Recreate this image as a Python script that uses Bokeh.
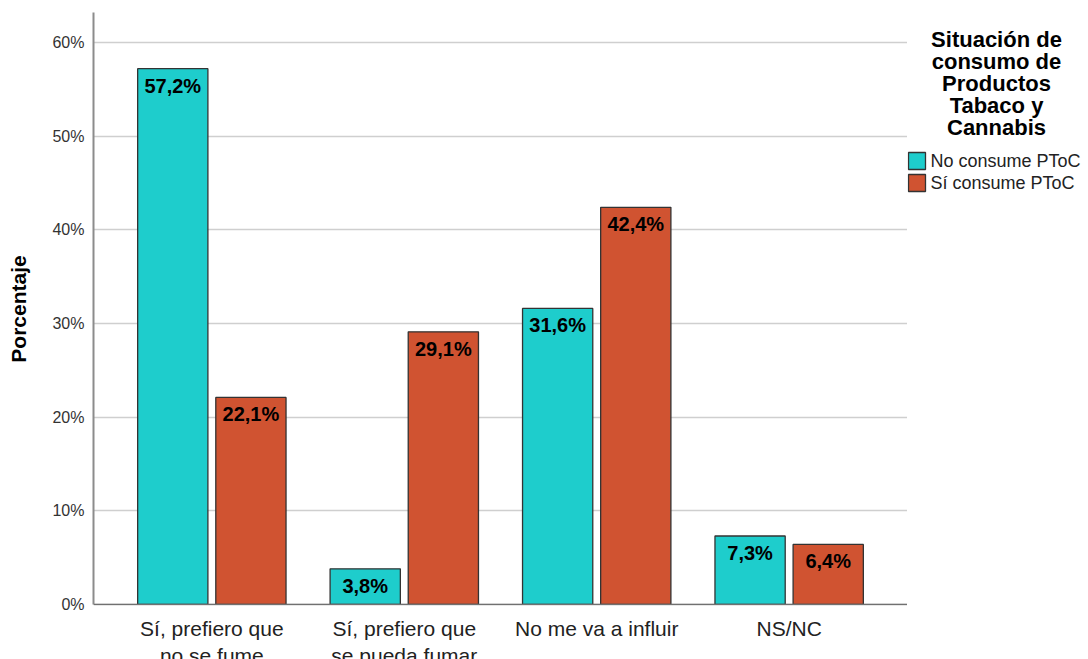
from bokeh.plotting import figure
from bokeh.layouts import row, column
from bokeh.models import (ColumnDataSource, FactorRange, Range1d, Span,
                          PrintfTickFormatter, FixedTicker)
from bokeh.transform import dodge
from bokeh.core.properties import value
from bokeh.embed import file_html
from bokeh.resources import INLINE

# ---- data ----
categories = ["Sí, prefiero que\nno se fume", "Sí, prefiero que\nse pueda fumar",
              "No me va a influir", "NS/NC"]
no_consume = [57.2, 3.8, 31.6, 7.3]
si_consume = [22.1, 29.1, 42.4, 6.4]
series_names = ["No consume PToC", "Sí consume PToC"]
legend_title_lines = ["Situación de", "consumo de", "Productos", "Tabaco y", "Cannabis"]
y_ticks = [0, 10, 20, 30, 40, 50, 60]

FONT = "Liberation Sans"
CYAN = "#1ECDCC"
RED = "#D05331"
EDGE = "#333333"


def fmt(v):
    return f"{v:.1f}".replace(".", ",") + "%"


src = ColumnDataSource(dict(
    cat=categories,
    no=no_consume,
    si=si_consume,
    no_txt=[fmt(v) for v in no_consume],
    si_txt=[fmt(v) for v in si_consume],
))

# ---------------- main chart ----------------
p = figure(width=907, height=615, output_backend="svg", toolbar_location=None, title=None,
           x_range=FactorRange(*categories, range_padding=0.115, range_padding_units="absolute"),
           y_range=Range1d(-0.12, 63.2),
           min_border_left=93, min_border_right=0, min_border_top=12, min_border_bottom=10)
p.outline_line_color = None
p.xgrid.grid_line_color = None
p.ygrid.grid_line_color = "#cfcfcf"
p.ygrid.grid_line_width = 1.5

off = 0.203
w = 0.365
p.vbar(x=dodge("cat", -off, range=p.x_range), top="no", width=w, source=src,
       fill_color=CYAN, line_color=EDGE, line_width=1.3)
p.vbar(x=dodge("cat", off, range=p.x_range), top="si", width=w, source=src,
       fill_color=RED, line_color=EDGE, line_width=1.3)

for col, d in (("no", -off), ("si", off)):
    p.text(x=dodge("cat", d, range=p.x_range), y=col, text=col + "_txt", source=src,
           text_align="center", text_baseline="top", y_offset=6,
           text_font=value(FONT), text_font_style="bold", text_font_size="20px",
           text_color="black")

# baseline (category axis line)
p.add_layout(Span(location=0, dimension="width", line_color="#707070", line_width=1.5))
p.xaxis.visible = False

# y axis
p.yaxis.ticker = FixedTicker(ticks=y_ticks)
p.yaxis.formatter = PrintfTickFormatter(format="%d%%")
p.yaxis.bounds = (0, 63.2)
p.yaxis.major_tick_line_color = None
p.yaxis.major_tick_out = 0
p.yaxis.major_tick_in = 0
p.yaxis.minor_tick_line_color = None
p.yaxis.axis_line_color = "#8c8c8c"
p.yaxis.axis_line_width = 2
p.yaxis.major_label_text_font = FONT
p.yaxis.major_label_text_font_size = "16px"
p.yaxis.major_label_text_color = "#333333"
p.yaxis.major_label_standoff = 9
p.yaxis.axis_label = "Porcentaje"
p.yaxis.axis_label_text_font = FONT
p.yaxis.axis_label_text_font_style = "bold"
p.yaxis.axis_label_text_font_size = "21px"
p.yaxis.axis_label_text_color = "black"
p.yaxis.axis_label_standoff = 19

# ---------------- category labels strip (shares the x scale) ----------------
pc = figure(width=907, height=44, output_backend="svg", toolbar_location=None, title=None,
            x_range=p.x_range, y_range=Range1d(44, 0),
            min_border_left=93, min_border_right=0, min_border_top=0, min_border_bottom=0,
            x_axis_location=None, y_axis_location=None)
pc.outline_line_color = None
pc.grid.visible = False
pc.text(x="cat", y=1, text="cat", source=src, text_align="center", text_baseline="top",
        text_font=value(FONT), text_font_size="21px", text_color="#222222",
        text_line_height=1.2)

# ---------------- legend panel ----------------
pl = figure(width=181, height=659, output_backend="svg", toolbar_location=None, title=None,
            x_range=Range1d(0, 181), y_range=Range1d(659, 0),
            min_border_left=0, min_border_right=0, min_border_top=0, min_border_bottom=0,
            x_axis_location=None, y_axis_location=None)
pl.outline_line_color = None
pl.grid.visible = False

leg_src = ColumnDataSource(dict(
    top=[152, 174], bottom=[169, 191], mid=[160.5, 182.5],
    color=[CYAN, RED], name=series_names,
))
pl.quad(left=1, right=18, top="top", bottom="bottom", fill_color="color",
        line_color=EDGE, line_width=1.3, source=leg_src)
pl.text(x=23, y="mid", text="name", source=leg_src, text_baseline="middle",
        text_font=value(FONT), text_font_size="18px", text_color="#222222")

title_src = ColumnDataSource(dict(
    y=[39 + 22 * i for i in range(len(legend_title_lines))],
    t=legend_title_lines,
))
pl.text(x=89, y="y", text="t", source=title_src, text_align="center", text_baseline="alphabetic",
        text_font=value(FONT), text_font_style="bold", text_font_size="22px", text_color="black")

layout = row(column(p, pc), pl)
open("out.html", "w").write(file_html(layout, INLINE))
